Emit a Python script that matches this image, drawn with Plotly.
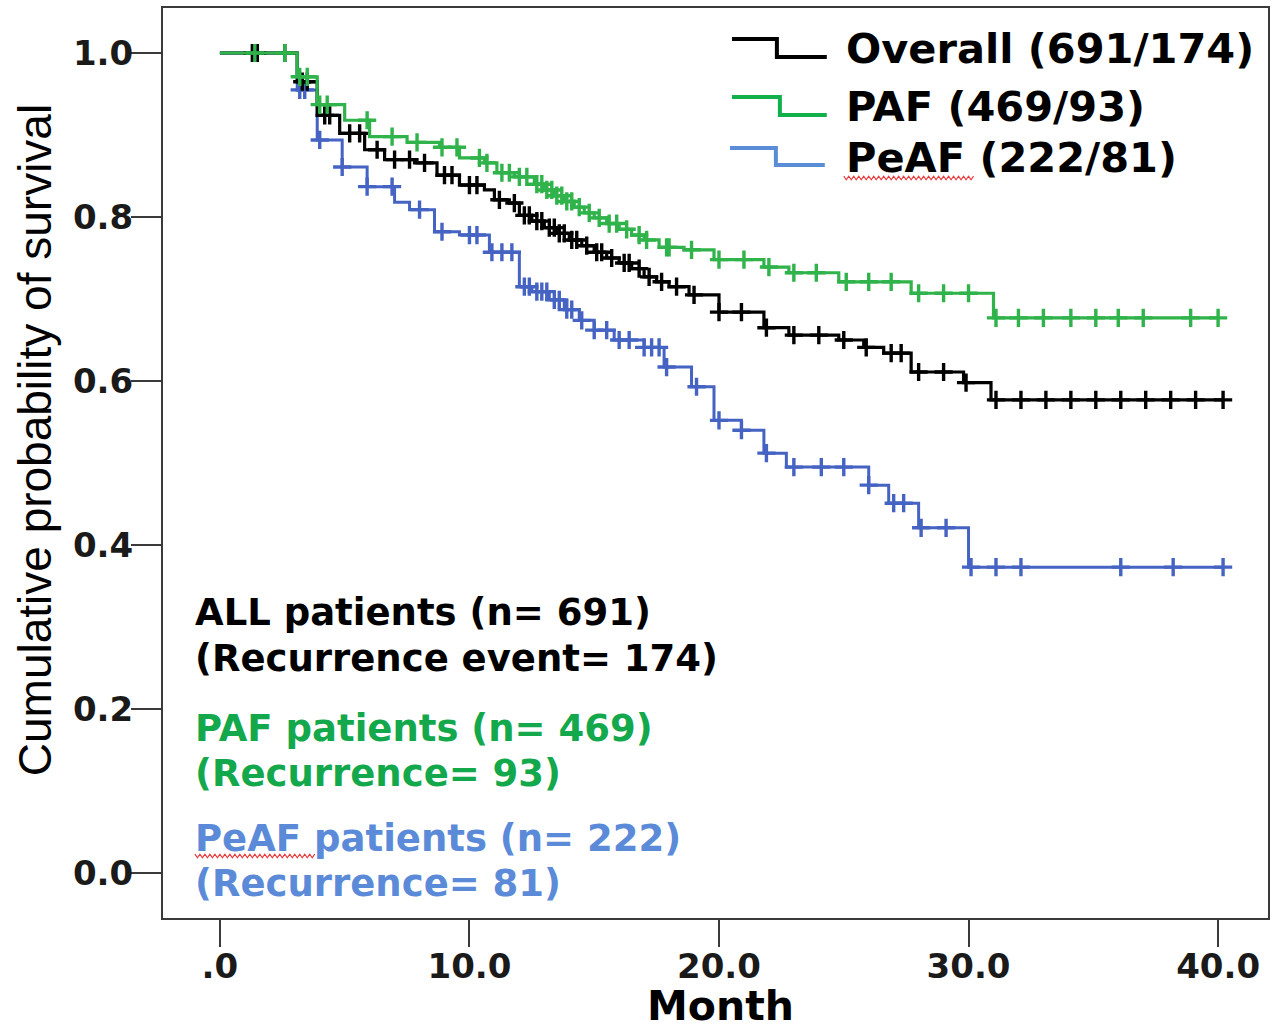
import numpy as np
import plotly.graph_objects as go

# ---- Kaplan-Meier estimates (months, cumulative survival after each event) ----
overall_event_t = [3.1, 3.9, 4.8, 5.8, 6.6, 7.8, 8.7, 9.6, 10.6, 11.0, 11.6, 12.0, 12.5, 13.0,
                   13.5, 14.0, 14.5, 15.0, 15.5, 16.0, 16.5, 17.0, 17.5, 18.0, 18.8, 20.0, 21.8,
                   22.8, 24.8, 25.8, 26.6, 27.7, 29.8, 30.9]
overall_surv = [0.965, 0.924, 0.902, 0.882, 0.870, 0.866, 0.851, 0.839, 0.833, 0.821, 0.817,
                0.802, 0.795, 0.787, 0.780, 0.772, 0.765, 0.757, 0.750, 0.744, 0.737, 0.727,
                0.721, 0.715, 0.705, 0.684, 0.665, 0.656, 0.650, 0.641, 0.634, 0.611, 0.598, 0.577]
overall_censor_t = [1.3, 1.5, 2.6, 3.3, 3.5, 4.2, 4.4, 5.2, 5.6, 6.3, 7.0, 7.6, 8.2, 9.0, 9.3,
                    10.0, 10.3, 11.2, 11.8, 12.2, 12.4, 12.7, 12.9, 13.2, 13.4, 13.6, 13.8, 14.1,
                    14.3, 14.7, 15.1, 15.3, 15.7, 16.2, 16.4, 16.8, 17.2, 17.7, 18.3, 19.0, 20.0,
                    20.9, 21.9, 23.0, 24.0, 25.0, 25.9, 26.9, 27.3, 28.0, 29.0, 29.9, 31.1, 32.1,
                    33.1, 34.1, 35.1, 36.1, 37.1, 38.1, 39.1, 40.2]

paf_event_t = [3.1, 3.9, 5.0, 6.0, 7.5, 8.8, 9.6, 10.6, 11.1, 11.8, 12.6, 13.0, 13.4, 13.8, 14.2,
               14.6, 15.0, 15.5, 16.0, 16.5, 17.0, 17.6, 18.6, 19.8, 21.8, 22.8, 24.8, 27.7, 31.0]
paf_surv = [0.971, 0.937, 0.918, 0.898, 0.891, 0.885, 0.872, 0.866, 0.854, 0.849, 0.840, 0.833,
            0.826, 0.819, 0.812, 0.805, 0.799, 0.792, 0.785, 0.778, 0.772, 0.763, 0.760, 0.748,
            0.739, 0.732, 0.721, 0.707, 0.677]
paf_censor_t = [1.4, 2.6, 3.2, 3.5, 4.0, 4.3, 5.9, 6.9, 7.9, 8.9, 9.5, 10.4, 10.7, 11.3, 11.6,
                12.0, 12.3, 12.7, 12.9, 13.1, 13.3, 13.5, 13.7, 13.9, 14.1, 14.4, 14.8, 15.2,
                15.6, 15.9, 16.3, 16.8, 17.1, 17.9, 18.0, 18.9, 20.0, 21.0, 22.0, 23.0, 23.9,
                25.1, 26.0, 26.9, 28.0, 29.0, 30.0, 31.1, 32.0, 33.0, 34.1, 35.1, 36.0, 37.0,
                38.9, 40.0]

peaf_event_t = [3.1, 3.9, 4.9, 5.9, 7.0, 7.6, 8.6, 9.6, 10.8, 12.0, 12.5, 13.2, 13.8, 14.4, 15.0,
                15.8, 17.0, 17.8, 18.9, 19.8, 20.9, 21.8, 22.7, 26.0, 26.8, 28.0, 30.0]
peaf_surv = [0.955, 0.894, 0.861, 0.837, 0.818, 0.809, 0.782, 0.778, 0.757, 0.715, 0.709, 0.699,
             0.687, 0.674, 0.662, 0.650, 0.641, 0.617, 0.593, 0.552, 0.540, 0.512, 0.495, 0.473,
             0.451, 0.421, 0.373]
peaf_censor_t = [3.2, 3.4, 4.0, 4.9, 5.9, 6.9, 8.0, 8.9, 10.0, 10.3, 10.9, 11.3, 11.7, 12.2, 12.4,
                 12.7, 12.9, 13.1, 13.4, 13.6, 13.9, 14.1, 14.5, 15.0, 15.5, 16.0, 16.4, 17.0,
                 17.3, 17.6, 17.9, 19.1, 20.0, 20.9, 21.9, 23.0, 24.1, 25.0, 26.0, 27.0, 27.4,
                 28.1, 29.1, 30.1, 31.1, 32.1, 36.1, 38.2, 40.2]

series_names = ["Overall (691/174)", "PAF (469/93)", "PeAF (222/81)"]
x_tick_vals = [0, 10, 20, 30, 40]
x_tick_text = [".0", "10.0", "20.0", "30.0", "40.0"]
y_tick_vals = [0.0, 0.2, 0.4, 0.6, 0.8, 1.0]
y_tick_text = ["0.0", "0.2", "0.4", "0.6", "0.8", "1.0"]

# ---- styling ----
W, H = 1274, 1029
PL, PR, PT, PB = 163, 1270, 8, 918          # plot-area edges in pixels
X_RANGE = [-2.28, 42.0]
Y_RANGE = [-0.0549, 1.0549]
BOLD = "DejaVu Sans"
C_BLACK = "#000000"
C_GREEN = "#2fb34a"
C_BLUE = "#4563c2"
C_GREEN_TXT = "#14a84c"
C_BLUE_TXT = "#5b8bd8"


def px2x(p):
    return X_RANGE[0] + (p - PL) / (PR - PL) * (X_RANGE[1] - X_RANGE[0])


def px2y(p):
    return Y_RANGE[1] - (p - PT) / (PB - PT) * (Y_RANGE[1] - Y_RANGE[0])


def pxp(px, py):
    return (px - PL) / (PR - PL), (PB - py) / (PB - PT)


def km_path(ev_t, surv, end_t):
    return [0.0] + list(ev_t) + [end_t], [1.0] + list(surv) + [surv[-1]]


def km_at(ev_t, surv, t):
    ev = np.asarray(ev_t)
    s = np.concatenate([[1.0], np.asarray(surv)])
    idx = np.searchsorted(ev, np.asarray(t), side="right")
    return s[idx]


fig = go.Figure()

curves = [
    (peaf_event_t, peaf_surv, peaf_censor_t, C_BLUE, 3.0),
    (overall_event_t, overall_surv, overall_censor_t, C_BLACK, 3.2),
    (paf_event_t, paf_surv, paf_censor_t, C_GREEN, 3.2),
]
for ev_t, surv, cens, col, lw in curves:
    xs, ys = km_path(ev_t, surv, max(cens))
    fig.add_trace(go.Scatter(x=xs, y=ys, mode="lines", line=dict(color=col, width=lw, shape="hv"),
                             showlegend=False, hoverinfo="skip"))
    fig.add_trace(go.Scatter(x=cens, y=km_at(ev_t, surv, cens), mode="markers",
                             marker=dict(symbol="cross-thin", size=13, line=dict(color=col, width=3.4)),
                             showlegend=False, hoverinfo="skip"))

shapes = []
# step-shaped legend keys
legend_keys = [
    (C_BLACK, 733, 778, 828, 39, 57),
    ("#12b04a", 733, 781, 828, 97, 115),
    ("#5b8dd6", 731, 777, 826, 148, 165),
]
for col, xa, xb, xc, ya, yb in legend_keys:
    path = (f"M {px2x(xa)},{px2y(ya)} L {px2x(xb)},{px2y(ya)} "
            f"L {px2x(xb)},{px2y(yb)} L {px2x(xc)},{px2y(yb)}")
    shapes.append(dict(type="path", path=path, xref="x", yref="y",
                       line=dict(color=col, width=4)))


def squiggle(x0, x1, y, amp=1.8, step=2.5):
    pts = []
    k = 0
    x = x0
    while x <= x1:
        px_, py_ = pxp(x, y + (amp if k % 2 else -amp))
        pts.append(f"{px_},{py_}")
        x += step
        k += 1
    return "M " + " L ".join(pts)


for x0, x1, y in [(845, 975, 178), (195, 316, 856)]:
    shapes.append(dict(type="path", path=squiggle(x0, x1, y), xref="paper", yref="paper",
                       line=dict(color="#e8393b", width=1.2)))

annotations = []
legend_text_y = [48, 106, 157]
for name, yy in zip(series_names, legend_text_y):
    annotations.append(dict(x=px2x(845), y=px2y(yy), xref="x", yref="y", xanchor="left",
                            yanchor="middle", showarrow=False, text=name,
                            font=dict(family=BOLD, size=41.5, color="#000000", weight="bold")))

notes = [
    ("ALL patients (n= 691)", 612, "#000000"),
    ("(Recurrence event= 174)", 658, "#000000"),
    ("PAF patients (n= 469)", 728, C_GREEN_TXT),
    ("(Recurrence= 93)", 773, C_GREEN_TXT),
    ("PeAF patients (n= 222)", 838, C_BLUE_TXT),
    ("(Recurrence= 81)", 883, C_BLUE_TXT),
]
for txt, yy, col in notes:
    annotations.append(dict(x=px2x(193), y=px2y(yy), xref="x", yref="y", xanchor="left",
                            yanchor="middle", showarrow=False, text=txt,
                            font=dict(family=BOLD, size=37, color=col, weight="bold")))

# axis titles
ax, ay = pxp(35, 440)
annotations.append(dict(x=ax, y=ay, xref="paper", yref="paper", textangle=-90, showarrow=False,
                        xanchor="center", yanchor="middle",
                        text="Cumulative probability of survival",
                        font=dict(family="Liberation Sans", size=46, color="#000000")))
mx, my = pxp(722, 1006)
annotations.append(dict(x=mx, y=my, xref="paper", yref="paper", showarrow=False,
                        xanchor="center", yanchor="middle", text="Month",
                        font=dict(family=BOLD, size=41, color="#000000", weight="bold")))

axis_common = dict(showgrid=False, zeroline=False, showline=True, mirror=True, linewidth=2,
                   linecolor="#3a3a3a", ticks="outside", tickwidth=2, tickcolor="#3a3a3a",
                   tickfont=dict(family=BOLD, size=34, color="#1a1a1a", weight="bold"))

fig.update_layout(
    width=W, height=H,
    margin=dict(l=PL, r=W - PR, t=PT, b=H - PB),
    paper_bgcolor="white", plot_bgcolor="white",
    xaxis=dict(range=X_RANGE, tickvals=x_tick_vals, ticktext=x_tick_text, ticklen=27,
               ticklabelstandoff=-10, **axis_common),
    yaxis=dict(range=Y_RANGE, tickvals=y_tick_vals, ticktext=y_tick_text, ticklen=30,
               ticklabelstandoff=-9, **axis_common),
    shapes=shapes,
    annotations=annotations,
    showlegend=False,
)

fig.write_html("out.html")
